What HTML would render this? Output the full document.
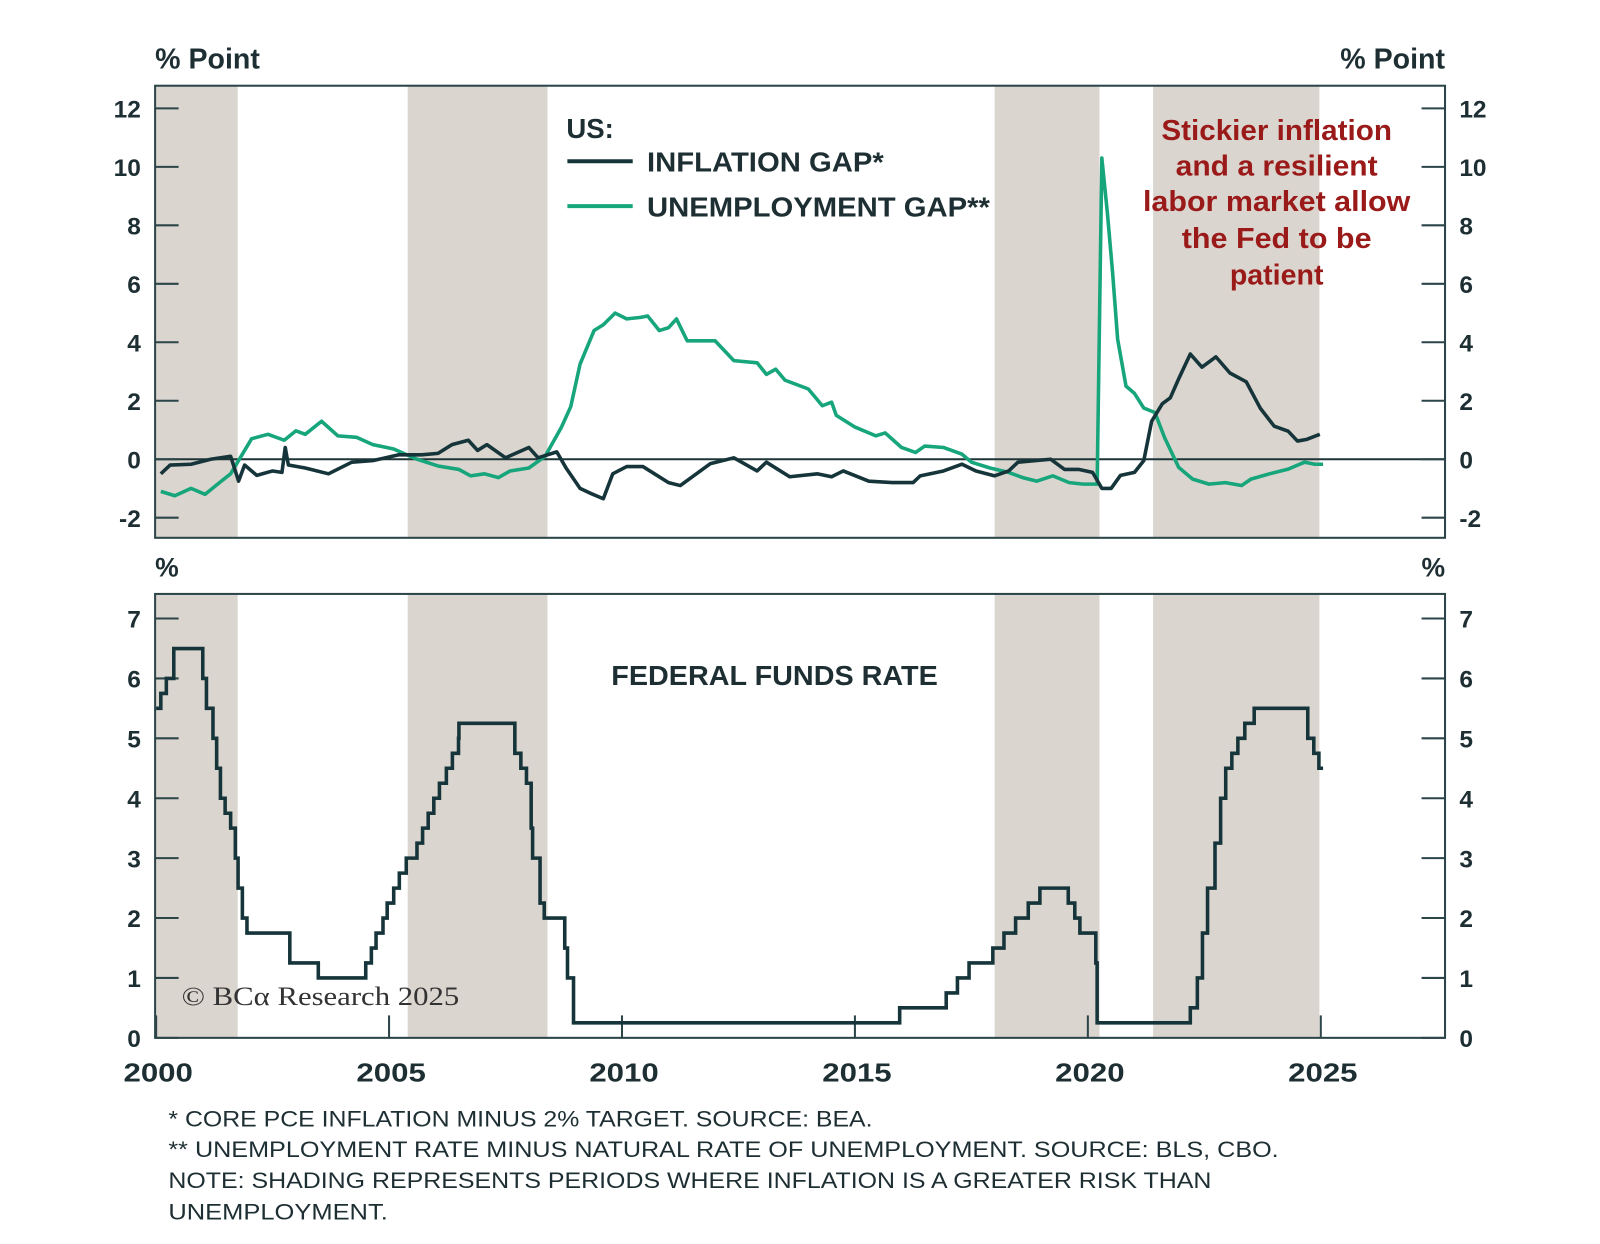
<!DOCTYPE html>
<html><head><meta charset="utf-8"><style>
body{margin:0;background:#fff;width:1600px;height:1239px;overflow:hidden;font-family:"Liberation Sans",sans-serif}
svg text{font-family:"Liberation Sans",sans-serif}
</style></head><body>
<svg id="chart" width="1600" height="1239" viewBox="0 0 1600 1239" xmlns="http://www.w3.org/2000/svg">
<g transform="scale(1.0205)">
<g id="shadeTop"></g>
<g id="shadeBot"></g>
<g id="axes"></g>
<g id="series"></g>
<text x="152" y="67" font-size="28" font-weight="bold" fill="#1e2f33">% Point</text>
<text x="1416" y="67" font-size="28" font-weight="bold" fill="#1e2f33" text-anchor="end">% Point</text>
<text x="152" y="565" font-size="26" font-weight="bold" fill="#1e2f33">%</text>
<text x="1416" y="565" font-size="26" font-weight="bold" fill="#1e2f33" text-anchor="end">%</text>
<g>
<text x="555" y="135" font-size="27" font-weight="bold" fill="#1e2f33">US:</text>
<line x1="556" y1="158" x2="620" y2="158" stroke="#16353a" stroke-width="4"/>
<text x="634" y="168" font-size="27" font-weight="bold" fill="#1e2f33" textLength="232" lengthAdjust="spacingAndGlyphs">INFLATION GAP*</text>
<line x1="556" y1="202" x2="620" y2="202" stroke="#17a57b" stroke-width="4"/>
<text x="634" y="212" font-size="27" font-weight="bold" fill="#1e2f33" textLength="336" lengthAdjust="spacingAndGlyphs">UNEMPLOYMENT GAP**</text>
</g>
<g font-size="28" font-weight="bold" fill="#9a1a1a" text-anchor="middle">
<text x="1251" y="137" textLength="226" lengthAdjust="spacingAndGlyphs">Stickier inflation</text>
<text x="1251" y="172" textLength="198" lengthAdjust="spacingAndGlyphs">and a resilient</text>
<text x="1251" y="207" textLength="262" lengthAdjust="spacingAndGlyphs">labor market allow</text>
<text x="1251" y="243" textLength="186" lengthAdjust="spacingAndGlyphs">the Fed to be</text>
<text x="1251" y="279">patient</text>
</g>
<text x="759" y="671" font-size="27" font-weight="bold" fill="#1e2f33" text-anchor="middle" textLength="320" lengthAdjust="spacingAndGlyphs">FEDERAL FUNDS RATE</text>
<text x="178" y="985" font-size="26" fill="#333" textLength="272" lengthAdjust="spacingAndGlyphs" style="font-family:'Liberation Serif',serif">© BCα Research 2025</text>
<g font-size="22" fill="#1e2f33">
<text x="165" y="1104" textLength="690" lengthAdjust="spacingAndGlyphs">* CORE PCE INFLATION MINUS 2% TARGET. SOURCE: BEA.</text>
<text x="165" y="1134" textLength="1088" lengthAdjust="spacingAndGlyphs">** UNEMPLOYMENT RATE MINUS NATURAL RATE OF UNEMPLOYMENT. SOURCE: BLS, CBO.</text>
<text x="165" y="1164" textLength="1022" lengthAdjust="spacingAndGlyphs">NOTE: SHADING REPRESENTS PERIODS WHERE INFLATION IS A GREATER RISK THAN</text>
<text x="165" y="1195" textLength="215" lengthAdjust="spacingAndGlyphs">UNEMPLOYMENT.</text>
</g>
</g>
</svg>
<script>
const shadeStart=[2000.0,2005.4,2018.0,2021.4];
const shadeEnd=[2001.75,2008.4,2020.25,2024.97];
const xTicks=[2000,2005,2010,2015,2020,2025];
const topTicks=[-2,0,2,4,6,8,10,12];
const botTicks=[0,1,2,3,4,5,6,7];
const inflYears=[2000.1,2000.3,2000.75,2001.17,2001.6,2001.77,2001.9,2002.16,2002.5,2002.7,2002.77,2002.84,2003.2,2003.7,2004.2,2004.65,2005.2,2005.7,2006.05,2006.35,2006.7,2006.9,2007.1,2007.5,2008.0,2008.2,2008.6,2008.8,2009.1,2009.3,2009.6,2009.8,2010.1,2010.45,2011.0,2011.25,2011.9,2012.4,2012.9,2013.1,2013.6,2014.2,2014.5,2014.75,2015.3,2015.8,2016.25,2016.4,2016.9,2017.3,2017.6,2018.0,2018.3,2018.5,2019.2,2019.5,2019.8,2020.1,2020.3,2020.5,2020.7,2021.0,2021.2,2021.37,2021.6,2021.77,2021.95,2022.2,2022.45,2022.75,2023.05,2023.4,2023.7,2024.0,2024.3,2024.5,2024.7,2024.98];
const inflValues=[-0.5,-0.2,-0.17,0,0.1,-0.75,-0.2,-0.55,-0.4,-0.45,0.4,-0.2,-0.3,-0.5,-0.1,-0.05,0.15,0.15,0.2,0.5,0.65,0.3,0.5,0.05,0.4,0.05,0.25,-0.3,-1.0,-1.15,-1.35,-0.5,-0.25,-0.25,-0.8,-0.9,-0.15,0.05,-0.4,-0.1,-0.6,-0.5,-0.6,-0.4,-0.75,-0.8,-0.8,-0.57,-0.4,-0.17,-0.4,-0.57,-0.4,-0.1,0,-0.35,-0.35,-0.45,-1.0,-1.0,-0.55,-0.45,-0.05,1.3,1.9,2.1,2.75,3.6,3.15,3.5,2.95,2.65,1.75,1.13,0.96,0.62,0.68,0.85];
const unempYears=[2000.1,2000.4,2000.75,2001.05,2001.4,2001.6,2001.9,2002.05,2002.4,2002.75,2003.0,2003.2,2003.55,2003.9,2004.3,2004.65,2005.1,2005.6,2006.05,2006.5,2006.75,2007.05,2007.35,2007.6,2008.0,2008.35,2008.7,2008.9,2009.1,2009.4,2009.6,2009.85,2010.1,2010.4,2010.55,2010.8,2011.0,2011.17,2011.4,2012.0,2012.4,2012.9,2013.1,2013.3,2013.5,2014.0,2014.3,2014.5,2014.6,2015.0,2015.45,2015.65,2016.0,2016.3,2016.5,2016.9,2017.3,2017.5,2017.9,2018.3,2018.6,2018.9,2019.25,2019.6,2019.9,2020.2,2020.3,2020.42,2020.53,2020.64,2020.82,2021.0,2021.2,2021.44,2021.65,2021.95,2022.25,2022.6,2022.95,2023.3,2023.5,2023.9,2024.3,2024.65,2024.87,2025.05];
const unempValues=[-1.1,-1.25,-1.0,-1.2,-0.75,-0.5,0.3,0.7,0.85,0.65,0.97,0.85,1.3,0.8,0.75,0.5,0.35,0,-0.23,-0.35,-0.57,-0.5,-0.63,-0.4,-0.3,0.1,1.1,1.8,3.25,4.4,4.6,5.0,4.8,4.85,4.9,4.4,4.5,4.8,4.05,4.05,3.37,3.3,2.9,3.08,2.7,2.4,1.83,1.95,1.5,1.1,0.8,0.9,0.4,0.23,0.45,0.4,0.17,-0.1,-0.3,-0.45,-0.63,-0.75,-0.57,-0.8,-0.85,-0.85,10.3,8.4,6.4,4.1,2.5,2.25,1.75,1.6,0.73,-0.28,-0.68,-0.85,-0.8,-0.9,-0.68,-0.5,-0.34,-0.1,-0.17,-0.17];
const ffYears=[2000.0,2000.1,2000.22,2000.38,2001.0,2001.08,2001.22,2001.3,2001.38,2001.48,2001.6,2001.7,2001.76,2001.85,2001.95,2002.87,2003.48,2004.5,2004.62,2004.72,2004.87,2004.96,2005.1,2005.22,2005.37,2005.6,2005.72,2005.84,2005.96,2006.08,2006.23,2006.36,2006.49,2006.5,2007.7,2007.83,2007.95,2008.05,2008.08,2008.24,2008.33,2008.77,2008.83,2008.96,2015.96,2016.96,2017.2,2017.45,2017.96,2018.2,2018.45,2018.72,2018.97,2019.58,2019.72,2019.83,2020.17,2020.2,2022.2,2022.35,2022.46,2022.57,2022.73,2022.85,2022.96,2023.09,2023.22,2023.37,2023.57,2024.72,2024.85,2024.96];
const ffValues=[5.5,5.75,6.0,6.5,6.0,5.5,5.0,4.5,4.0,3.75,3.5,3.0,2.5,2.0,1.75,1.25,1.0,1.25,1.5,1.75,2.0,2.25,2.5,2.75,3.0,3.25,3.5,3.75,4.0,4.25,4.5,4.75,5.0,5.25,4.75,4.5,4.25,3.5,3.0,2.25,2.0,1.5,1.0,0.25,0.5,0.75,1.0,1.25,1.5,1.75,2.0,2.25,2.5,2.25,2.0,1.75,1.25,0.25,0.5,1.0,1.75,2.5,3.25,4.0,4.5,4.75,5.0,5.25,5.5,5.0,4.75,4.5];
const ffEnd=2025.05;

const NS="http://www.w3.org/2000/svg";
const L=152,R=1416,TT=84,TB=527,BT=582,BB=1017;
const x=y=>153+(y-2000)*45.65;
const yT=v=>450-v*28.65;
const yB=v=>1017-v*58.7;
function mk(tag,attrs,parent){const e=document.createElementNS(NS,tag);for(const k in attrs)e.setAttribute(k,attrs[k]);parent.appendChild(e);return e;}
const shT=document.getElementById('shadeTop'),shB=document.getElementById('shadeBot'),ax=document.getElementById('axes'),se=document.getElementById('series');
shadeStart.forEach((s,i)=>{
  const a=mk('rect',{x:x(s),y:TT,width:x(shadeEnd[i])-x(s),height:TB-TT,fill:'#dbd5cf'},shT);
  
  
  const b=mk('rect',{x:x(s),y:BT,width:x(shadeEnd[i])-x(s),height:BB-BT,fill:'#dbd5cf'},shB);
  
  
});
const fc='#2b4549';
const f1=mk('rect',{x:L,y:TT,width:R-L,height:TB-TT,fill:'none',stroke:fc,'stroke-width':2},ax);


const f2=mk('rect',{x:L,y:BT,width:R-L,height:BB-BT,fill:'none',stroke:fc,'stroke-width':2},ax);


const zl=mk('line',{x1:L,x2:R,y1:yT(0),y2:yT(0),stroke:'#1e3538','stroke-width':2},ax);


function tickLabel(px,py,txt,anchor,name,len){
  const t=mk('text',{x:px,y:py,'font-size':len?25:24,'font-weight':'bold',fill:'#1e2f33','text-anchor':anchor},ax);
  if(len){t.setAttribute('textLength',len);t.setAttribute('lengthAdjust','spacingAndGlyphs');}
  t.textContent=txt;
  
  
}
topTicks.forEach(v=>{
  mk('line',{x1:L,x2:L+23,y1:yT(v),y2:yT(v),stroke:fc,'stroke-width':2},ax);
  mk('line',{x1:R-23,x2:R,y1:yT(v),y2:yT(v),stroke:fc,'stroke-width':2},ax);
  tickLabel(138,yT(v)+9,v,'end','y-tick-left-top');
  tickLabel(1430,yT(v)+9,v,'start','y-tick-right-top');
});
botTicks.forEach(v=>{
  mk('line',{x1:L,x2:L+23,y1:yB(v),y2:yB(v),stroke:fc,'stroke-width':2},ax);
  mk('line',{x1:R-23,x2:R,y1:yB(v),y2:yB(v),stroke:fc,'stroke-width':2},ax);
  tickLabel(138,yB(v)+9,v,'end','y-tick-left-bottom');
  tickLabel(1430,yB(v)+9,v,'start','y-tick-right-bottom');
});
xTicks.forEach(yr=>{
  mk('line',{x1:x(yr),x2:x(yr),y1:BB-22,y2:BB,stroke:fc,'stroke-width':2},ax);
  tickLabel(x(yr)+2,1060,yr,'middle','x-tick',68);
});
function line(xs,vs,fy,col,name){
  const d=xs.map((t,i)=>(i?'L':'M')+x(t).toFixed(1)+','+fy(vs[i]).toFixed(1)).join('');
  const p=mk('path',{d:d,fill:'none',stroke:col,'stroke-width':3.5,'stroke-linejoin':'round'},se);
  
  
}
line(unempYears,unempValues,yT,'#17a57b','unemployment-gap-line');
line(inflYears,inflValues,yT,'#16353a','inflation-gap-line');
let d='';
ffYears.forEach((t,i)=>{
  const nx=i<ffYears.length-1?ffYears[i+1]:ffEnd;
  d+=(i?'L':'M')+x(t).toFixed(1)+','+yB(ffValues[i]).toFixed(1)+'L'+x(nx).toFixed(1)+','+yB(ffValues[i]).toFixed(1);
});
const fp=mk('path',{d:d,fill:'none',stroke:'#16353a','stroke-width':3.5},se);


</script>
</body></html>
